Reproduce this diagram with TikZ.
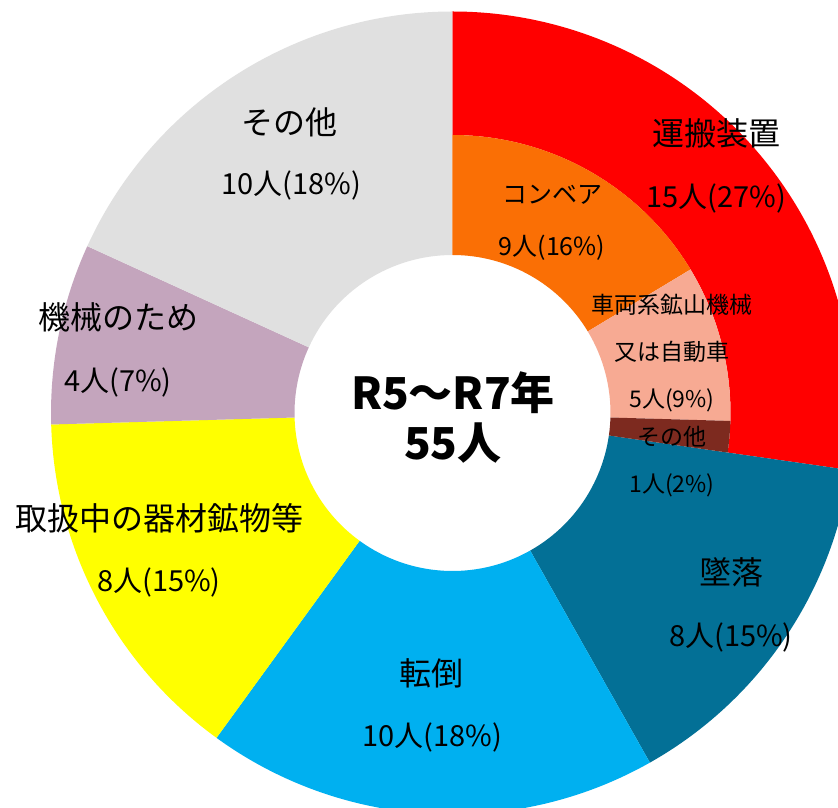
\documentclass[tikz,border=0pt]{standalone}
\usepackage{fontspec}
\setmainfont{Noto Sans CJK JP}
\definecolor{rosso}{HTML}{FF0000}
\definecolor{arancio}{HTML}{FA6F05}
\definecolor{salmone}{HTML}{F7AA93}
\definecolor{marrone}{HTML}{7D2A1F}
\definecolor{blu}{HTML}{037096}
\definecolor{azzurro}{HTML}{00B0F0}
\definecolor{giallo}{HTML}{FFFF00}
\definecolor{malva}{HTML}{C4A5BD}
\definecolor{grigio}{HTML}{E0E0E0}
\tikzset{
  etichetta/.style={inner sep=0pt, font=\fontsize{32}{38}\selectfont},
  numero/.style={inner sep=0pt, font=\fontsize{29}{35}\selectfont},
  interna/.style={inner sep=0pt, font=\fontsize{23}{28}\selectfont},
  conv/.style={inner sep=0pt, font=\fontsize{25}{30}\selectfont},
  centro/.style={inner sep=0pt, font=\fontsize{44}{50}\selectfont\bfseries}
}
\begin{document}
\begin{tikzpicture}[x=1pt,y=1pt]
            \clip (-452.5,-395) rectangle (385.5,413);
            \fill[white] (-452.5,-395) rectangle (385.5,413);
            % anello esterno
            \fill[rosso] (90:401.5) arc[start angle=90, end angle=-8.18, radius=401.5] -- (-8.18:278) arc[start angle=-8.18, end angle=90, radius=278] -- cycle;
            \fill[blu] (-8.18:401.5) arc[start angle=-8.18, end angle=-60.55, radius=401.5] -- (-60.55:158) arc[start angle=-60.55, end angle=-8.18, radius=158] -- cycle;
            \fill[azzurro] (-60.55:401.5) arc[start angle=-60.55, end angle=-126, radius=401.5] -- (-126:158) arc[start angle=-126, end angle=-60.55, radius=158] -- cycle;
            \fill[giallo] (-126:401.5) arc[start angle=-126, end angle=-178.36, radius=401.5] -- (-178.36:158) arc[start angle=-178.36, end angle=-126, radius=158] -- cycle;
            \fill[malva] (-178.36:401.5) arc[start angle=-178.36, end angle=-204.55, radius=401.5] -- (-204.55:158) arc[start angle=-204.55, end angle=-178.36, radius=158] -- cycle;
            \fill[grigio] (-204.55:401.5) arc[start angle=-204.55, end angle=-270, radius=401.5] -- (-270:158) arc[start angle=-270, end angle=-204.55, radius=158] -- cycle;
            % anello interno
            \fill[arancio] (90:278) arc[start angle=90, end angle=31.09, radius=278] -- (31.09:158) arc[start angle=31.09, end angle=90, radius=158] -- cycle;
            \fill[salmone] (31.09:278) arc[start angle=31.09, end angle=-1.64, radius=278] -- (-1.64:158) arc[start angle=-1.64, end angle=31.09, radius=158] -- cycle;
            \fill[marrone] (-1.64:278) arc[start angle=-1.64, end angle=-8.18, radius=278] -- (-8.18:158) arc[start angle=-8.18, end angle=-1.64, radius=158] -- cycle;
            % etichette
            \node[centro] (nodo1) at (0.5,20) {R5～R7年};
            \node[centro] (nodo2) at (0.5,-30) {55人};
            \node[etichetta] (nodo3) at (263.5,280) {運搬装置};
            \node[numero] (nodo4) at (263.5,215) {15人(27\%)};
            \node[conv] (nodo5) at (100.5,218) {コンベア};
            \node[conv] (nodo6) at (99.5,165) {9人(16\%)};
            \node[interna] (nodo7) at (219.5,108) {車両系鉱山機械};
            \node[interna] (nodo8) at (219.5,61) {又は自動車};
            \node[interna] (nodo9) at (219.5,13) {5人(9\%)};
            \node[interna] (nodo10) at (219.5,-24) {その他};
            \node[interna] (nodo11) at (219.5,-72) {1人(2\%)};
            \node[etichetta] (nodo12) at (278.5,-159) {墜落};
            \node[numero] (nodo13) at (278.5,-224) {8人(15\%)};
            \node[etichetta] (nodo14) at (-20.5,-260) {転倒};
            \node[numero] (nodo15) at (-20.5,-324) {10人(18\%)};
            \node[etichetta] (nodo16) at (-292.5,-105) {取扱中の器材鉱物等};
            \node[numero] (nodo17) at (-293.5,-169) {8人(15\%)};
            \node[etichetta] (nodo18) at (-333.5,96) {機械のため};
            \node[numero] (nodo19) at (-334.5,31) {4人(7\%)};
            \node[etichetta] (nodo20) at (-162.5,291) {その他};
            \node[numero] (nodo21) at (-161.5,228) {10人(18\%)};
        \end{tikzpicture}
\end{document}
